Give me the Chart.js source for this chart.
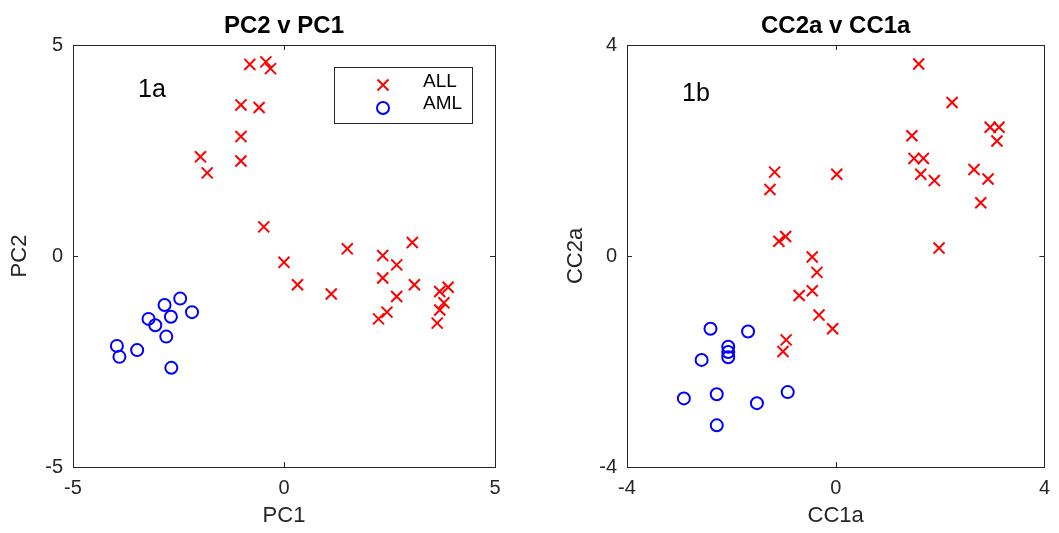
<!DOCTYPE html>
<html lang="en">
<head>
    <meta charset="UTF-8">
    <title>PC2 v PC1 / CC2a v CC1a</title>
    <script src="https://cdn.jsdelivr.net/npm/chart.js"></script>
    <style>
        body {
            margin: 0;
            background: #fff;
            width: 1059px;
            height: 533px;
            position: relative;
            overflow: hidden;
        }
        canvas {
            position: absolute;
            top: 0;
        }
        #pcChart { left: 0; }
        #ccChart { left: 554px; }
    </style>
</head>
<body>
    <canvas id="pcChart" width="554" height="533"></canvas>
    <canvas id="ccChart" width="505" height="533"></canvas>
    <script>
        // PC2 v PC1 (1a)
        const pcAllX = [-0.81, -0.43, -0.32, -1.02, -0.59, -1.02, -1.98, -1.82, -1.02, -0.48, 0.00, 1.50, 2.34, 2.67,
                        3.04, 0.32, 1.12, 2.34, 3.09, 2.67, 3.69, 3.89, 3.79, 3.69, 3.63, 2.44, 2.24];
        const pcAllY = [4.54, 4.60, 4.44, 3.58, 3.52, 2.83, 2.35, 1.97, 2.25, 0.69, -0.15, 0.17, 0.01, -0.21,
                        0.32, -0.68, -0.90, -0.52, -0.68, -0.96, -0.84, -0.74, -1.11, -1.28, -1.59, -1.33, -1.49];
        const pcAmlX = [-2.46, -2.83, -2.18, -3.21, -2.68, -3.05, -2.79, -3.96, -3.90, -3.48, -2.67];
        const pcAmlY = [-1.01, -1.16, -1.33, -1.49, -1.44, -1.64, -1.91, -2.13, -2.39, -2.23, -2.65];

        // CC2a v CC1a (1b)
        const ccAllX = [1.59, 2.23, 2.96, 3.13, 3.09, 1.46, 1.50, 1.68, 1.63, 1.89, 2.65, 2.92, 2.78, 1.98,
                        -1.17, -1.26, 0.02, -1.09, -0.96, -0.45, -0.36, -0.70, -0.45, -0.32, -0.06, -0.95, -1.01];
        const ccAllY = [3.64, 2.91, 2.44, 2.44, 2.18, 2.28, 1.85, 1.85, 1.55, 1.43, 1.64, 1.46, 1.01, 0.15,
                        1.59, 1.26, 1.55, 0.28, 0.37, -0.02, -0.31, -0.75, -0.66, -1.12, -1.38, -1.59, -1.81];
        const ccAmlX = [-2.40, -1.68, -2.06, -2.06, -2.06, -2.57, -2.91, -2.28, -1.51, -0.92, -2.28];
        const ccAmlY = [-1.38, -1.43, -1.72, -1.82, -1.92, -1.97, -2.70, -2.62, -2.79, -2.58, -3.21];

        const classNames = ['ALL', 'AML'];

        const INK = '#262626';
        Chart.defaults.font.family = '"Liberation Sans", Arial, Helvetica, sans-serif';

        function toPoints(xs, ys) {
            return xs.map((x, i) => ({ x: x, y: ys[i] }));
        }

        // frame, inward ticks, title, panel label and legend, matlab style
        const matlabAxes = {
            id: 'matlabAxes',
            afterDraw(chart, args, opts) {
                const ctx = chart.ctx;
                const a = chart.chartArea;
                const xs = chart.scales.x, ys = chart.scales.y;
                ctx.save();

                ctx.strokeStyle = INK;
                ctx.lineWidth = 1;
                ctx.strokeRect(Math.round(a.left) + 0.5, Math.round(a.top) + 0.5,
                    Math.round(a.right - a.left), Math.round(a.bottom - a.top));

                ctx.beginPath();
                xs.ticks.forEach(t => {
                    const px = Math.round(xs.getPixelForValue(t.value)) + 0.5;
                    ctx.moveTo(px, a.bottom); ctx.lineTo(px, a.bottom - 5);
                    ctx.moveTo(px, a.top); ctx.lineTo(px, a.top + 5);
                });
                ys.ticks.forEach(t => {
                    const py = Math.round(ys.getPixelForValue(t.value)) + 0.5;
                    ctx.moveTo(a.left, py); ctx.lineTo(a.left + 5, py);
                    ctx.moveTo(a.right, py); ctx.lineTo(a.right - 5, py);
                });
                ctx.stroke();

                ctx.fillStyle = '#000';
                ctx.font = 'bold 24px "Liberation Sans", Arial, sans-serif';
                ctx.textAlign = 'center';
                ctx.textBaseline = 'alphabetic';
                ctx.fillText(opts.title, (a.left + a.right) / 2, 33);

                ctx.font = '25px "Liberation Sans", Arial, sans-serif';
                ctx.textAlign = 'left';
                ctx.fillText(opts.note, a.left + opts.noteX, a.top + opts.noteY);

                if (opts.legend) {
                    const bx = a.left + 261, by = a.top + 22;
                    ctx.fillStyle = '#fff';
                    ctx.fillRect(bx, by, 138, 56);
                    ctx.strokeStyle = INK;
                    ctx.strokeRect(bx + 0.5, by + 0.5, 138, 56);

                    const mx = bx + 49;
                    ctx.lineWidth = 2;
                    ctx.strokeStyle = '#ff0000';
                    ctx.beginPath();
                    ctx.moveTo(mx - 5.5, by + 12.5); ctx.lineTo(mx + 5.5, by + 23.5);
                    ctx.moveTo(mx + 5.5, by + 12.5); ctx.lineTo(mx - 5.5, by + 23.5);
                    ctx.stroke();
                    ctx.strokeStyle = '#0000ff';
                    ctx.beginPath();
                    ctx.arc(mx, by + 41, 6, 0, Math.PI * 2);
                    ctx.stroke();

                    ctx.fillStyle = '#000';
                    ctx.font = '19px "Liberation Sans", Arial, sans-serif';
                    ctx.textBaseline = 'middle';
                    ctx.fillText(classNames[0], bx + 89, by + 15);
                    ctx.fillText(classNames[1], bx + 89, by + 37);
                }
                ctx.restore();
            }
        };

        function makeScatter(id, lim, xLabel, yLabel, allPts, amlPts, axisTitlePad, matlab) {
            const rightPad = id === 'pcChart' ? 59 : 8;
            return new Chart(document.getElementById(id), {
                type: 'scatter',
                data: {
                    datasets: [{
                        label: classNames[0],
                        data: allPts,
                        pointStyle: 'crossRot',
                        pointRadius: 7.8,
                        borderColor: '#ff0000',
                        backgroundColor: '#ff0000',
                        borderWidth: 2
                    }, {
                        label: classNames[1],
                        data: amlPts,
                        pointStyle: 'circle',
                        pointRadius: 6,
                        borderColor: '#0000ff',
                        backgroundColor: 'rgba(0,0,0,0)',
                        borderWidth: 2
                    }]
                },
                options: {
                    responsive: false,
                    animation: false,
                    layout: { autoPadding: false, padding: { top: 45, right: rightPad, left: 0, bottom: 0 } },
                    scales: {
                        x: {
                            type: 'linear', min: -lim, max: lim,
                            ticks: { stepSize: lim, color: INK, font: { size: 20 }, padding: 9, maxRotation: 0, autoSkip: false,
                                     callback: v => String(v) },
                            grid: { display: false, drawTicks: false },
                            border: { display: false },
                            title: { display: true, text: xLabel, color: INK, font: { size: 22 }, padding: { top: 0, bottom: 4 } },
                            afterFit: s => { s.height = 66; }
                        },
                        y: {
                            type: 'linear', min: -lim, max: lim,
                            ticks: { stepSize: lim, color: INK, font: { size: 20 }, padding: 10, autoSkip: false,
                                     callback: v => String(v) },
                            grid: { display: false, drawTicks: false },
                            border: { display: false },
                            title: { display: true, text: yLabel, color: INK, font: { size: 22 }, padding: { top: axisTitlePad, bottom: 0 } },
                            afterFit: s => { s.width = 73; }
                        }
                    },
                    plugins: {
                        legend: { display: false },
                        tooltip: { enabled: false },
                        matlabAxes: matlab
                    }
                },
                plugins: [matlabAxes]
            });
        }

        makeScatter('pcChart', 5, 'PC1', 'PC2', toPoints(pcAllX, pcAllY), toPoints(pcAmlX, pcAmlY), 7,
            { title: 'PC2 v PC1', note: '1a', noteX: 65, noteY: 52, legend: true });
        makeScatter('ccChart', 4, 'CC1a', 'CC2a', toPoints(ccAllX, ccAllY), toPoints(ccAmlX, ccAmlY), 9,
            { title: 'CC2a v CC1a', note: '1b', noteX: 55, noteY: 56, legend: false });
    </script>
</body>
</html>
